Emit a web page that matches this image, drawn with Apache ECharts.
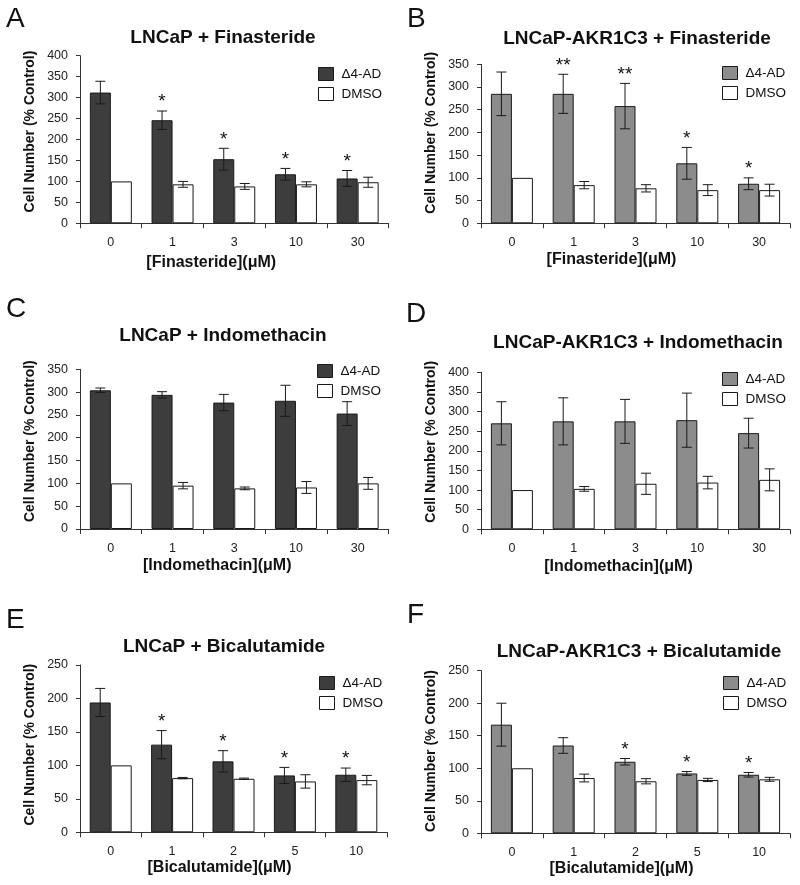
<!DOCTYPE html>
<html>
<head>
<meta charset="utf-8">
<script src="https://cdn.jsdelivr.net/npm/echarts@6/dist/echarts.min.js"></script>
<style>
  html, body { margin: 0; padding: 0; background: #ffffff; }
  #chart { width: 800px; height: 885px; }
</style>
</head>
<body>
<div id="chart"></div>
<script>
// ---------- DATA ----------
const catsFinasteride = ['0', '1', '3', '10', '30'];
const catsIndomethacin = ['0', '1', '3', '10', '30'];
const catsBicalutamide = ['0', '1', '2', '5', '10'];

// A: LNCaP + Finasteride
const aAD = [312, 246, 153, 117, 107];
const aADErr = [27, 22, 26, 14, 19];
const aDMSO = [100, 93, 88, 93, 98];
const aDMSOErr = [0, 7, 7, 6, 12];
const aSig = ['', '*', '*', '*', '*'];

// B: LNCaP-AKR1C3 + Finasteride
const bAD = [285, 285, 258, 132, 87];
const bADErr = [48, 43, 50, 35, 13];
const bDMSO = [100, 84, 77, 73, 73];
const bDMSOErr = [0, 8, 8, 12, 13];
const bSig = ['', '**', '**', '*', '*'];

// C: LNCaP + Indomethacin
const cAD = [304, 294, 277, 281, 253];
const cADErr = [5, 7, 18, 34, 26];
const cDMSO = [100, 95, 89, 91, 100];
const cDMSOErr = [0, 7, 3, 13, 13];
const cSig = ['', '', '', '', ''];

// D: LNCaP-AKR1C3 + Indomethacin
const dAD = [270, 275, 275, 278, 245];
const dADErr = [55, 60, 56, 69, 38];
const dDMSO = [100, 103, 116, 119, 126];
const dDMSOErr = [0, 6, 27, 16, 28];
const dSig = ['', '', '', '', ''];

// E: LNCaP + Bicalutamide
const eAD = [194, 131, 106, 85, 86];
const eADErr = [21, 21, 16, 12, 10];
const eDMSO = [100, 81, 80, 76, 78];
const eDMSOErr = [0, 1, 1, 10, 7];
const eSig = ['', '*', '*', '*', '*'];

// F: LNCaP-AKR1C3 + Bicalutamide
const fAD = [167, 135, 110, 92, 90];
const fADErr = [33, 12, 5, 3, 3.5];
const fDMSO = [100, 85, 80, 82, 83];
const fDMSOErr = [0, 6, 4, 2.5, 3];
const fSig = ['', '', '*', '*', '*'];

const seriesNames = ['Δ4-AD', 'DMSO'];
const yAxisTitle = 'Cell Number (% Control)';

// ---------- STYLE / LAYOUT ----------
const FONT = "'Liberation Sans', Arial, Helvetica, sans-serif";
const DARK = '#3d3d3d';
const MID = '#8c8c8c';
const BAR_W = 21;

const panels = [
  { letter: 'A', title: 'LNCaP + Finasteride', xName: '[Finasteride](μM)', cats: catsFinasteride,
    ad: aAD, adErr: aADErr, dm: aDMSO, dmErr: aDMSOErr, sig: aSig, color: DARK, yMax: 400,
    grid: { left: 80, top: 55.7, width: 308.5, height: 167.6 },
    letterPos: [6, 5], titlePos: [223, 38], xNameGap: 31, xNameShift: 23, yNameShift: 8, legendPos: [318, 67] },
  { letter: 'B', title: 'LNCaP-AKR1C3 + Finasteride', xName: '[Finasteride](μM)', cats: catsFinasteride,
    ad: bAD, adErr: bADErr, dm: bDMSO, dmErr: bDMSOErr, sig: bSig, color: MID, yMax: 350,
    grid: { left: 481, top: 64.3, width: 309, height: 159 },
    letterPos: [407, 5], titlePos: [637, 39], xNameGap: 28, xNameShift: 24, yNameShift: 11, legendPos: [722, 66] },
  { letter: 'C', title: 'LNCaP + Indomethacin', xName: '[Indomethacin](μM)', cats: catsIndomethacin,
    ad: cAD, adErr: cADErr, dm: cDMSO, dmErr: cDMSOErr, sig: cSig, color: DARK, yMax: 350,
    grid: { left: 80, top: 369.3, width: 308.5, height: 159.7 },
    letterPos: [6, 295], titlePos: [223, 336], xNameGap: 29, xNameShift: 17, yNameShift: 8, legendPos: [317, 364] },
  { letter: 'D', title: 'LNCaP-AKR1C3 + Indomethacin', xName: '[Indomethacin](μM)', cats: catsIndomethacin,
    ad: dAD, adErr: dADErr, dm: dDMSO, dmErr: dDMSOErr, sig: dSig, color: MID, yMax: 400,
    grid: { left: 481, top: 372.3, width: 309, height: 157 },
    letterPos: [406, 300], titlePos: [638, 343], xNameGap: 29, xNameShift: 17, yNameShift: 9, legendPos: [722, 372] },
  { letter: 'E', title: 'LNCaP + Bicalutamide', xName: '[Bicalutamide](μM)', cats: catsBicalutamide,
    ad: eAD, adErr: eADErr, dm: eDMSO, dmErr: eDMSOErr, sig: eSig, color: DARK, yMax: 250,
    grid: { left: 80, top: 665, width: 307, height: 167.3 },
    letterPos: [6, 606], titlePos: [224, 647], xNameGap: 26, xNameShift: 14, yNameShift: 4, legendPos: [319, 676] },
  { letter: 'F', title: 'LNCaP-AKR1C3 + Bicalutamide', xName: '[Bicalutamide](μM)', cats: catsBicalutamide,
    ad: fAD, adErr: fADErr, dm: fDMSO, dmErr: fDMSOErr, sig: fSig, color: MID, yMax: 250,
    grid: { left: 481, top: 670.7, width: 309, height: 162.6 },
    letterPos: [407, 601], titlePos: [639, 652], xNameGap: 26, xNameShift: 14, yNameShift: 1, legendPos: [723, 676] }
];

const titles = [], grids = [], xAxes = [], yAxes = [], series = [], legends = [];

function errSeries(g, vals, errs, sigs, side) {
  return {
    type: 'custom',
    xAxisIndex: g, yAxisIndex: g,
    z: 5, silent: true,
    data: vals.map((v, i) => [i, v]),
    encode: { x: 0, y: 1 },
    renderItem: function (params, api) {
      const i = params.dataIndex;
      const v = vals[i], e = errs[i];
      const base = api.coord([i, v]);
      const x = base[0] + side * BAR_W / 2;
      const children = [];
      let topY = base[1];
      if (e) {
        const hi = api.coord([i, v + e])[1];
        const lo = api.coord([i, v - e])[1];
        const ls = { stroke: '#1a1a1a', lineWidth: 1 };
        children.push({ type: 'line', shape: { x1: x, y1: hi, x2: x, y2: lo }, style: ls });
        children.push({ type: 'line', shape: { x1: x - 5, y1: hi, x2: x + 5, y2: hi }, style: ls });
        children.push({ type: 'line', shape: { x1: x - 5, y1: lo, x2: x + 5, y2: lo }, style: ls });
        topY = hi;
      }
      if (sigs && sigs[i]) {
        children.push({
          type: 'text',
          style: {
            text: sigs[i], x: x, y: topY - 9,
            align: 'center', verticalAlign: 'middle',
            fontSize: 19, fontFamily: FONT, fill: '#111'
          }
        });
      }
      return { type: 'group', children: children };
    }
  };
}

panels.forEach((p, g) => {
  titles.push({
    text: p.letter, left: p.letterPos[0], top: p.letterPos[1], padding: 0,
    textStyle: { fontSize: 28, fontWeight: 'normal', fontFamily: FONT, color: '#111' }
  });
  titles.push({
    text: p.title, left: p.titlePos[0], top: p.titlePos[1], padding: 0,
    textAlign: 'center', textVerticalAlign: 'middle',
    textStyle: { fontSize: 19, fontWeight: 'bold', fontFamily: FONT, color: '#111' }
  });
  grids.push(Object.assign({ containLabel: false }, p.grid));
  xAxes.push({
    type: 'category', gridIndex: g, data: p.cats,
    name: p.xName, nameLocation: 'middle', nameGap: p.xNameGap,
    nameTextStyle: { fontSize: 16, fontWeight: 'bold', fontFamily: FONT, color: '#111',
                     padding: [0, 2 * p.xNameShift, 0, 0] },
    axisLine: { lineStyle: { color: '#333', width: 1 } },
    axisTick: { show: true, alignWithLabel: false, length: 5, lineStyle: { color: '#333' } },
    axisLabel: { fontSize: 12.5, fontFamily: FONT, color: '#222', margin: 13 },
    splitLine: { show: false }
  });
  yAxes.push({
    type: 'value', gridIndex: g, min: 0, max: p.yMax, interval: 50,
    name: yAxisTitle, nameLocation: 'middle', nameGap: 43,
    nameTextStyle: { fontSize: 14, fontWeight: 'bold', fontFamily: FONT, color: '#111',
                     padding: [0, 0, 0, 2 * p.yNameShift] },
    axisLine: { show: true, lineStyle: { color: '#333', width: 1 } },
    axisTick: { show: true, length: 4, lineStyle: { color: '#333' } },
    axisLabel: { fontSize: 12.5, fontFamily: FONT, color: '#222', margin: 12 },
    splitLine: { show: false }
  });
  series.push({
    type: 'bar', name: seriesNames[0], xAxisIndex: g, yAxisIndex: g,
    data: p.ad, barWidth: BAR_W, barGap: '0%', silent: true,
    itemStyle: { color: p.color, borderColor: '#1a1a1a', borderWidth: 1 }
  });
  series.push({
    type: 'bar', name: seriesNames[1], xAxisIndex: g, yAxisIndex: g,
    data: p.dm, barWidth: BAR_W, barGap: '0%', silent: true,
    itemStyle: { color: '#ffffff', borderColor: '#1a1a1a', borderWidth: 1 }
  });
  series.push(errSeries(g, p.ad, p.adErr, p.sig, -1));
  series.push(errSeries(g, p.dm, p.dmErr, null, 1));
  legends.push({
    left: p.legendPos[0], top: p.legendPos[1], orient: 'vertical', padding: 0,
    itemWidth: 15, itemHeight: 13, itemGap: 6, selectedMode: false, icon: 'rect',
    textStyle: { fontSize: 13.5, fontFamily: FONT, color: '#111', padding: [0, 0, 0, 3] },
    data: [
      { name: seriesNames[0], itemStyle: { color: p.color, borderColor: '#1a1a1a', borderWidth: 1 } },
      { name: seriesNames[1], itemStyle: { color: '#ffffff', borderColor: '#1a1a1a', borderWidth: 1 } }
    ]
  });
});

const chart = echarts.init(document.getElementById('chart'), null, { renderer: 'canvas' });
chart.setOption({
  backgroundColor: '#ffffff',
  animation: false,
  title: titles,
  grid: grids,
  xAxis: xAxes,
  yAxis: yAxes,
  legend: legends,
  series: series
});
</script>
</body>
</html>
